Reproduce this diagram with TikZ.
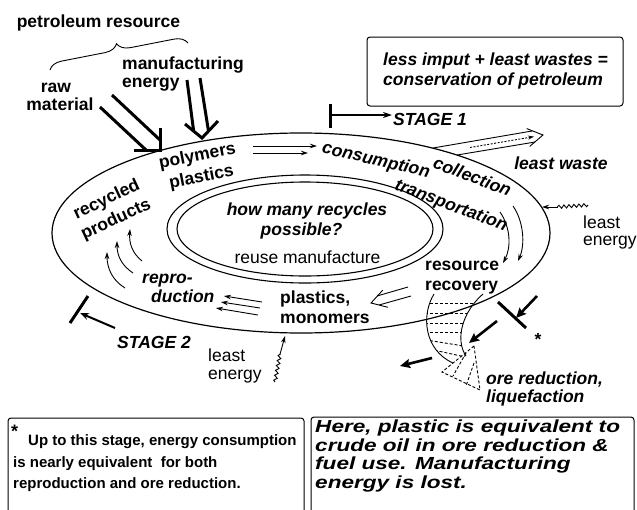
\documentclass[tikz,border=0pt]{standalone}
\usepackage{fontspec}
\setmainfont{Liberation Sans}
\usepackage{graphicx}
\usetikzlibrary{arrows.meta,decorations.pathreplacing,decorations.pathmorphing}
\begin{document}
\begin{tikzpicture}[x=1pt,y=-1pt,
  lab/.style={inner sep=0pt, font=\fontsize{17.5}{19}\selectfont\bfseries},
  labi/.style={inner sep=0pt, font=\fontsize{17.5}{19}\selectfont\bfseries\itshape},
  labr/.style={inner sep=0pt, font=\fontsize{17.5}{19}\selectfont},
  rot/.style={text height=12.6pt, text depth=3.7pt},
  thinline/.style={line width=0.9pt},
  bigline/.style={line width=3pt},
  sarrow/.style={thinline, -{Stealth[length=7pt,width=4.5pt]}},
  fatarrow/.style={line width=2.6pt, -{Stealth[length=10pt,width=9pt,inset=1.5pt]}},
  wavy/.style={thinline, decorate, decoration={snake, amplitude=1.6pt, segment length=5pt}},
  boxline/.style={line width=1pt, rounded corners=3pt},
  dsh/.style={thinline, dash pattern=on 3pt off 2pt},
]
\useasboundingbox (0,0) rectangle (637,509);

% ellipses
\draw[line width=1.2pt] (301,233) ellipse [x radius=249pt, y radius=100pt];
\draw[line width=1.1pt] (305,229) ellipse [x radius=138pt, y radius=54pt];
\draw[line width=1.1pt] (305,229) ellipse [x radius=128pt, y radius=47pt];

% top labels
\node[lab, anchor=base] (pet) at (98.5,27) {petroleum resource};
\draw[thinline, decorate, decoration={brace, amplitude=13pt}] (50,70) -- (188,43);
\node[lab, anchor=base] (raw) at (56,92) {raw};
\node[lab, anchor=base] (mat) at (60,110) {material};
\node[lab, anchor=base west] (manu) at (122,69) {manufacturing};
\node[lab, anchor=base west] (ener) at (122,87) {energy};

% raw material arrow
\draw[bigline] (100,107) -- (146,150);
\draw[bigline] (112,95) -- (160,140);
\draw[bigline, line join=miter] (134,150) -- (160,150) -- (160,128);
% manufacturing energy arrow
\draw[bigline] (187,80) -- (193.5,130);
\draw[bigline] (200,78) -- (208.5,131);
\draw[bigline, line join=miter] (185,124) -- (202,138) -- (218,121);

% labels on the ring
\node[lab, align=center, rotate=11] (poly) at (199.5,167) {polymers\\[2.4pt]plastics};
\draw[sarrow] (253,146) -- (317,146);
\draw[sarrow] (253,153) -- (308,153);
\node[labi, rot, rotate=-13] (cons) at (376,161) {consumption};
\node[labi, align=left, rotate=-20.75] (coll) at (457,190.3) {\hspace*{28pt}collection\\[14.7pt]transportation};
\node[lab, align=center, rotate=25] (recy) at (111.5,210) {recycled\\[3pt]products};

% center
\node[labi, anchor=base] (how) at (307,215) {how many recycles};
\node[labi, anchor=base] (poss) at (301.5,235) {possible?};
\node[labr, anchor=base] (reuse) at (307.5,263) {reuse manufacture};

% least waste
\draw[thinline] (433,148) -- (532,131);
\draw[thinline] (457,155) -- (535,142);
\draw[thinline, line join=miter] (526.7,128.6) -- (543,135) -- (529.7,146.4);
\draw[thinline, dash pattern=on 2pt off 1.5pt, -{Stealth[length=6pt,width=4pt]}] (470,147.5) -- (534,136.6);
\node[labi, anchor=base] (lw) at (561,169) {least waste};

% box top right
\draw[boxline] (367,37) rectangle (623,106);
\node[labi, anchor=base west] (b1) at (383,65) {less imput + least wastes =};
\node[labi, anchor=base west] (b2) at (383,85) {conservation of petroleum};

% stage 1
\draw[bigline] (330,104) -- (330,128);
\draw[line width=1.6pt, -{Stealth[length=9pt,width=6pt]}] (331,115) -- (392,115);
\node[labi, anchor=base west] (st1) at (393,125) {STAGE 1};

% right arcs
\draw[sarrow] (500,212) .. controls (511,228) and (511,248) .. (503,263);
\draw[sarrow] (513,206) .. controls (524,222) and (525,245) .. (518,261);

% right least energy
\draw[wavy] (588,205) -- (557,207);
\draw[sarrow] (558,207) -- (542,207);
\node[labr, anchor=base west] (le1) at (583,228) {least};
\node[labr, anchor=base west] (le2) at (583,245) {energy};

% resource recovery
\node[lab, anchor=base west] (res) at (425,270) {resource};
\node[lab, anchor=base west] (rec) at (425,290) {recovery};
\draw[thinline] (408,287) -- (377,296);
\draw[thinline] (411,296) -- (379,305);
\draw[thinline, line join=miter] (382.8,290.1) -- (371,303) -- (388,307.3);

% plastics monomers
\node[lab, anchor=base west] (pm1) at (280,303) {plastics,};
\node[lab, anchor=base west] (pm2) at (280,323) {monomers};
\draw[sarrow] (262,302) -- (224,296);
\draw[sarrow] (260,308) -- (221,302);
\draw[sarrow] (258,315) -- (216,308);
\node[labi, anchor=base west] (rep1) at (142,283) {repro-};
\node[labi, anchor=base west] (rep2) at (151,302) {duction};

% left arcs
\draw[sarrow] (125,288) .. controls (112,280) and (107,268) .. (107,252);
\draw[sarrow] (133,273) .. controls (121,265) and (117,255) .. (117,241);
\draw[sarrow] (142,261) .. controls (132,253) and (129,243) .. (130,229);

% stage 2
\draw[bigline] (88,296) -- (70,323);
\draw[line width=2pt, -{Stealth[length=9pt,width=7pt]}] (115,328) -- (80,313);
\node[labi, anchor=base west] (st2) at (117,348) {STAGE 2};

% bottom least energy
\draw[wavy] (275,382) -- (280,354);
\draw[sarrow] (279.8,355) -- (285,336);
\node[labr, anchor=base west] (le3) at (208,361) {least};
\node[labr, anchor=base west] (le4) at (208,379) {energy};

% funnel
\draw[thinline] (434,294) .. controls (421,315) and (424,350) .. (453,363);
\draw[thinline] (483,294) .. controls (462,312) and (455,340) .. (466,356);
\begin{scope}
\clip (434,294) .. controls (421,315) and (424,350) .. (453,363) -- (466,356)
  .. controls (455,340) and (462,312) .. (483,294) -- cycle;
\foreach \yy in {303,313,323,332}
  \draw[dsh] (420,\yy) -- (490,\yy);
\draw[dsh] (420,339) -- (470,347);
\draw[dsh] (420,347) -- (470,358);
\end{scope}
\draw[dsh] (474,346) -- (442,372) -- (480,390) -- cycle;
\draw[dsh] (466,353) -- (453,376);
\draw[dsh] (474,363) -- (466,386);

\draw[fatarrow] (537,296) -- (516,318);
\draw[fatarrow] (497,321) -- (469,343);
\draw[fatarrow] (432,358) -- (400,366);
\draw[bigline] (498,302) -- (526,328);
\node[lab, anchor=base] (star1) at (538,345) {*};
\node[labi, anchor=base west] (ore1) at (486,384) {ore reduction,};
\node[labi, anchor=base west] (ore2) at (486,402) {liquefaction};

% bottom boxes
\draw[boxline] (8,515) -- (8,418) -- (304,418) -- (304,515);
\draw[boxline] (311,515) -- (311,417) -- (634,417) -- (634,515);
\node[inner sep=0pt, anchor=base west, font=\fontsize{18}{18}\selectfont\bfseries] (star2) at (11,437) {*};
\begin{scope}[every node/.style={inner sep=0pt, anchor=base west, font=\fontsize{15}{18}\selectfont\bfseries}]
\node (t1) at (28,445) {Up to this stage, energy consumption};
\node (t2) at (13,467) {is nearly equivalent\ \ for both};
\node (t3) at (13,488) {reproduction and ore reduction.};
\end{scope}
\begin{scope}[every node/.style={inner sep=0pt, anchor=base west, font=\fontsize{17.5}{18}\selectfont\bfseries\itshape}]
\node (u1) at (315,432) {\scalebox{1.29}[1]{Here, plastic is equivalent to}};
\node (u2) at (315,451) {\scalebox{1.29}[1]{crude oil in ore reduction \&}};
\node (u3) at (315,469) {\scalebox{1.29}[1]{fuel use. Manufacturing}};
\node (u4) at (315,488) {\scalebox{1.29}[1]{energy is lost.}};
\end{scope}
\end{tikzpicture}
\end{document}
